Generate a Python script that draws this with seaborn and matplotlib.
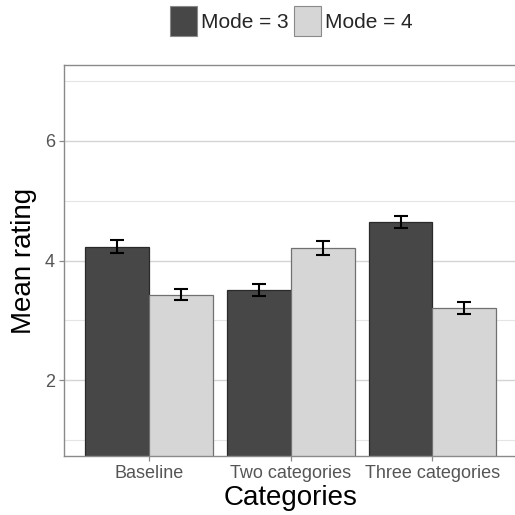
import numpy as np
import pandas as pd
import seaborn as sns
import matplotlib.pyplot as plt
from matplotlib.ticker import FixedLocator

# data
categories = ["Baseline", "Two categories", "Three categories"]
modes = ["Mode = 3", "Mode = 4"]
mean_mode3 = [4.23, 3.51, 4.65]
mean_mode4 = [3.43, 4.21, 3.21]
se_mode3 = [0.11, 0.10, 0.10]
se_mode4 = [0.09, 0.11, 0.10]

df = pd.DataFrame({
    "Categories": categories * 2,
    "mode": [modes[0]] * 3 + [modes[1]] * 3,
    "rating": mean_mode3 + mean_mode4,
    "se": se_mode3 + se_mode4,
})

sns.set_theme(style="white")
plt.rcParams["font.family"] = ["Liberation Sans", "DejaVu Sans"]

fig = plt.figure(figsize=(5.15, 5.15), dpi=100)
W = H = 515
ax = fig.add_axes([64 / W, (H - 456) / H, (517.5 - 64) / W, (456 - 65) / H])

palette = {modes[0]: "#474747", modes[1]: "#d6d6d6"}
sns.barplot(data=df, x="Categories", y="rating", hue="mode", order=categories,
            hue_order=modes, palette=palette, errorbar=None, width=0.9,
            saturation=1, ax=ax, zorder=2)

edge = {modes[0]: "#2a2a2a", modes[1]: "#707070"}
for cont, m in zip(ax.containers, modes):
    sub = df[df["mode"] == m].set_index("Categories").loc[categories]
    xs = [p.get_x() + p.get_width() / 2 for p in cont.patches]
    for p in cont.patches:
        p.set_edgecolor(edge[m])
        p.set_linewidth(0.9)
    ax.errorbar(xs, sub["rating"].values, yerr=sub["se"].values, fmt="none",
                ecolor="black", elinewidth=1.5, capsize=4.7, capthick=1.5, zorder=3)

handles, labels = ax.get_legend_handles_labels()
ax.get_legend().remove()
leg = fig.legend(handles[:2], labels[:2], loc="center", bbox_to_anchor=(291 / W, 1 - 21 / H),
                 ncol=2, frameon=False, fontsize=15, handlelength=1.3, handleheight=1.9,
                 handletextpad=0.2, columnspacing=0.25, borderaxespad=0, borderpad=0)
for h in leg.legend_handles:
    h.set_edgecolor("#8a8a8a")
    h.set_linewidth(0.8)

ax.set_xlim(-0.6, 2.6)
ax.set_ylim(0.73, 7.27)
ax.set_yticks([2, 4, 6])
ax.yaxis.set_minor_locator(FixedLocator([1, 3, 5, 7]))
ax.grid(True, axis="y", which="major", color="#d4d4d4", linewidth=1.0, zorder=0)
ax.grid(True, axis="y", which="minor", color="#e4e4e4", linewidth=0.8, zorder=0)
ax.set_axisbelow(True)

for s in ax.spines.values():
    s.set_color("#8a8a8a")
    s.set_linewidth(1.0)

ax.tick_params(axis="both", which="major", length=3.5, width=0.9, color="#8a8a8a",
               labelsize=13, labelcolor="#555555", pad=3, bottom=True, left=True)
ax.tick_params(axis="y", which="minor", length=0)

ax.set_xlabel("Categories", fontsize=20, color="black", labelpad=2)
ax.set_ylabel("Mean rating", fontsize=20, color="black", labelpad=6)

fig.savefig("out.png", dpi=100)
